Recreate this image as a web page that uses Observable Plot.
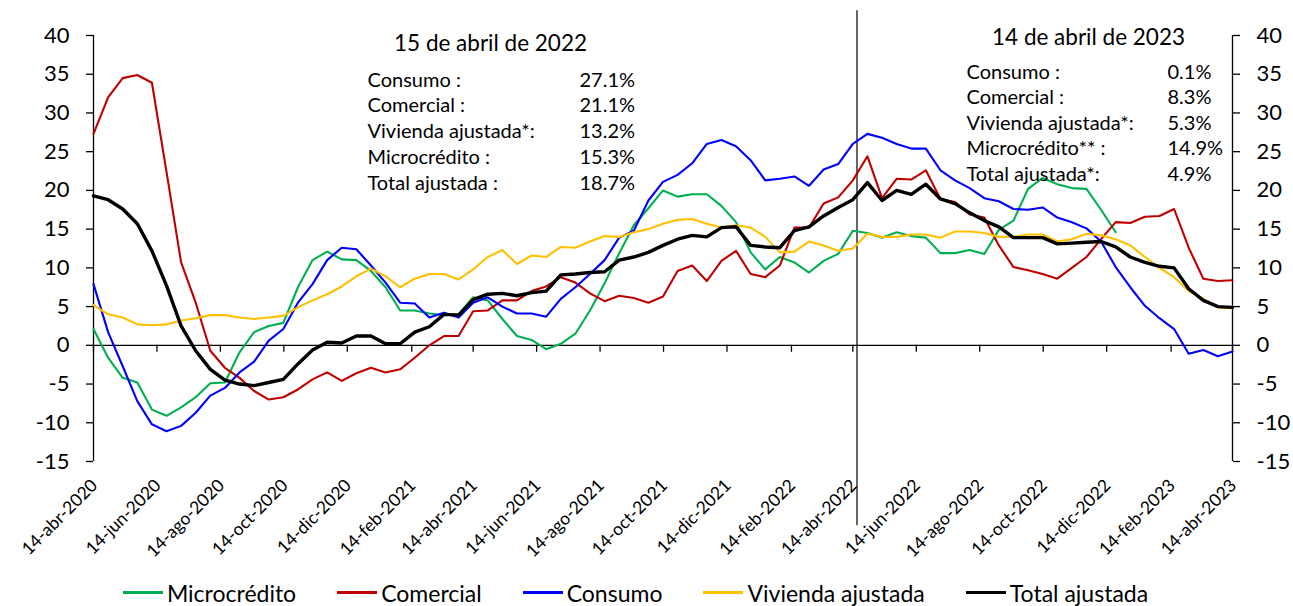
<!DOCTYPE html>
<html><head><meta charset="utf-8">
<script src="https://cdn.jsdelivr.net/npm/d3@7"></script>
<script src="https://cdn.jsdelivr.net/npm/@observablehq/plot@0.6"></script>
<style>
body{margin:0;background:#fff;font-family:Lato,sans-serif;}
#legend{display:flex;justify-content:center;align-items:center;gap:41px;height:31px;padding-top:2px;font-size:23px;color:#000;padding-right:22px;}
.item{display:flex;align-items:center;}
.sw{display:inline-block;width:40px;height:2.5px;margin-right:4px;}
</style></head><body>
<div id="chart"></div>
<div id="legend"></div>
<script>
// ---- data ----
const startDate = "2020-04-14";
const endDate = "2023-04-14";
const markerDate = "2022-04-18";

const comercial = [27.3,32.0,34.5,34.9,33.9,22.4,10.7,5.5,-0.7,-2.9,-4.2,-5.9,-7.0,-6.7,-5.7,-4.4,-3.5,-4.6,-3.6,-2.9,-3.5,-3.1,-1.6,0.0,1.2,1.2,4.4,4.5,5.8,5.8,7.0,7.6,8.8,8.1,6.7,5.7,6.4,6.1,5.5,6.3,9.6,10.3,8.3,10.9,12.2,9.2,8.8,10.3,15.2,15.2,18.3,19.1,21.3,24.4,19.0,21.5,21.4,22.6,18.9,18.5,16.9,16.5,12.9,10.1,9.7,9.2,8.6,10.0,11.4,13.7,15.9,15.8,16.6,16.7,17.6,12.6,8.6,8.3,8.4];
const consumo = [7.9,1.7,-2.7,-7.2,-10.2,-11.1,-10.4,-8.7,-6.5,-5.5,-3.5,-2.1,0.6,2.1,5.5,7.9,11.0,12.6,12.4,10.3,8.1,5.5,5.4,3.6,4.2,3.6,5.5,6.2,5.0,4.1,4.1,3.7,6.0,7.5,9.2,11.0,13.9,14.8,18.7,21.1,22.0,23.5,26.0,26.5,25.7,23.9,21.3,21.5,21.8,20.6,22.7,23.4,26.0,27.3,26.8,26.0,25.4,25.4,22.6,21.3,20.3,19.0,18.6,17.6,17.5,17.8,16.5,15.9,15.1,13.4,10.1,7.5,5.1,3.5,2.1,-1.1,-0.6,-1.4,-0.8];
const microcredito = [2.1,-1.6,-4.2,-4.8,-8.3,-9.1,-8.0,-6.7,-4.9,-4.8,-0.9,1.7,2.5,2.9,7.5,11.0,12.1,11.1,11.0,9.6,7.5,4.5,4.5,4.1,3.9,4.0,6.2,5.8,3.4,1.2,0.7,-0.5,0.2,1.5,4.5,8.0,11.9,15.5,17.7,20.0,19.2,19.5,19.5,18.0,15.9,12.0,9.8,11.4,10.7,9.4,10.9,11.8,14.8,14.5,13.9,14.6,14.1,13.9,11.9,11.9,12.3,11.8,14.9,16.1,20.2,21.6,20.8,20.3,20.2,17.5,14.6,null,null,null,null,null,null,null,null];
const vivienda = [5.2,4.0,3.6,2.7,2.6,2.7,3.2,3.5,3.9,3.9,3.6,3.4,3.6,3.8,4.9,5.8,6.6,7.6,8.9,9.9,8.9,7.5,8.6,9.2,9.2,8.5,9.8,11.4,12.3,10.5,11.6,11.4,12.7,12.6,13.4,14.1,14.0,14.6,15.0,15.7,16.2,16.3,15.7,15.2,15.5,15.2,14.0,12.0,12.1,13.4,12.9,12.2,12.5,14.4,14.0,14.0,14.3,14.3,13.9,14.7,14.7,14.5,14.0,14.0,14.3,14.3,13.4,13.7,14.4,14.2,13.7,12.9,11.4,10.0,8.8,7.0,6.0,4.9,4.8];
const total = [19.3,18.8,17.6,15.7,12.2,7.7,2.5,-0.7,-3.1,-4.5,-5.0,-5.2,-4.8,-4.4,-2.4,-0.6,0.4,0.3,1.2,1.2,0.2,0.2,1.7,2.4,4.0,3.9,5.9,6.6,6.7,6.4,6.8,7.0,9.1,9.2,9.4,9.5,11.0,11.4,12.0,12.9,13.7,14.2,14.0,15.2,15.3,12.9,12.7,12.6,14.8,15.3,16.7,17.8,18.8,21.0,18.7,20.0,19.5,20.8,18.9,18.3,17.1,16.1,15.3,13.9,13.9,13.9,13.1,13.2,13.3,13.4,12.7,11.4,10.7,10.2,10.0,7.3,5.8,5.0,4.9];

const seriesNames = ["Microcrédito","Comercial","Consumo","Vivienda ajustada","Total ajustada"];
const seriesColors = ["#00B050","#C00000","#0000FF","#FFC000","#000000"];
const seriesValues = [microcredito, comercial, consumo, vivienda, total];

const yTicks = [-15,-10,-5,0,5,10,15,20,25,30,35,40];
const tickLabels = ["14-abr-2020","14-jun-2020","14-ago-2020","14-oct-2020","14-dic-2020","14-feb-2021","14-abr-2021","14-jun-2021","14-ago-2021","14-oct-2021","14-dic-2021","14-feb-2022","14-abr-2022","14-jun-2022","14-ago-2022","14-oct-2022","14-dic-2022","14-feb-2023","14-abr-2023"];

const leftTitle = "15 de abril de 2022";
const leftLabels = ["Consumo :","Comercial :","Vivienda ajustada*:","Microcrédito :","Total ajustada :"];
const leftValues = ["27.1%","21.1%","13.2%","15.3%","18.7%"];
const rightTitle = "14 de abril de 2023";
const rightLabels = ["Consumo :","Comercial :","Vivienda ajustada*:","Microcrédito** :","Total ajustada*:"];
const rightValues = ["0.1%","8.3%","5.3%","14.9%","4.9%"];

// ---- build ----
const t0 = new Date(startDate + "T00:00:00Z"), t1 = new Date(endDate + "T00:00:00Z");
const n = total.length;
const dates = d3.range(n).map(i => new Date(+t0 + i * (t1 - t0) / (n - 1)));
const tickDates = tickLabels.map((_, k) => new Date(Date.UTC(2020, 3 + 2 * k, 14)));

const lineMarks = seriesNames.map((name, s) =>
  Plot.line(dates.map((d, i) => ({date: d, value: seriesValues[s][i]})), {
    x: "date", y: "value", stroke: seriesColors[s],
    strokeWidth: s === 4 ? 3.4 : 2.1, strokeLinejoin: "round", strokeLinecap: "round"
  })
);

const tableText = {frameAnchor: "top-left", fontSize: 20, textAnchor: "start", lineAnchor: "middle", fill: "#000"};

const chart = Plot.plot({
  width: 1293, height: 575,
  marginLeft: 93, marginRight: 61, marginTop: 35, marginBottom: 114,
  x: {type: "utc", domain: [t0, t1], axis: null},
  y: {domain: [-15, 40], axis: null, label: null},
  style: {fontFamily: "Lato, sans-serif", color: "#000", background: "#fff", overflow: "visible"},
  marks: [
    Plot.ruleY([0], {stroke: "#000", strokeWidth: 1.3}),
    Plot.ruleX(tickDates, {x: d => d, y1: 0, y2: -0.9, stroke: "#000", strokeWidth: 1.3}),
    Plot.text(tickDates, {x: d => d, text: (d, i) => tickLabels[i], frameAnchor: "bottom",
      rotate: -45, textAnchor: "end", lineAnchor: "bottom", dx: 5, dy: 25, fontSize: 17.5, fill: "#000"}),
    Plot.ruleX([t0, t1], {y1: -15, y2: 40, stroke: "#000", strokeWidth: 1.3}),
    Plot.axisY({anchor: "left", ticks: yTicks, tickSize: 7, tickPadding: 17, fontSize: 22,
      label: null, tickFormat: d => String(d), strokeWidth: 1.3}),
    Plot.axisY({anchor: "right", ticks: yTicks, tickSize: 7, tickPadding: 17, fontSize: 22,
      label: null, tickFormat: d => String(d), strokeWidth: 1.3}),
    Plot.ruleX([new Date(markerDate + "T00:00:00Z")], {y1: 43.2, y2: -23.3, stroke: "#000", strokeWidth: 1.2}),
    ...lineMarks,
    Plot.text([leftTitle], {text: d => d, frameAnchor: "top-left", dx: 397, dy: 8, fontSize: 22.5, textAnchor: "middle", lineAnchor: "middle", fill: "#000"}),
    Plot.text([leftLabels.join("\n")], {...tableText, text: d => d, dx: 274, dy: 94.5, lineHeight: 1.29}),
    Plot.text([leftValues.join("\n")], {...tableText, text: d => d, dx: 486, dy: 94.5, lineHeight: 1.29}),
    Plot.text([rightTitle], {text: d => d, frameAnchor: "top-left", dx: 995, dy: 2, fontSize: 22.5, textAnchor: "middle", lineAnchor: "middle", fill: "#000"}),
    Plot.text([rightLabels.join("\n")], {...tableText, text: d => d, dx: 873, dy: 86, lineHeight: 1.275}),
    Plot.text([rightValues.join("\n")], {...tableText, text: d => d, dx: 1074, dy: 86, lineHeight: 1.275})
  ]
});
document.getElementById("chart").appendChild(chart);

const legend = document.getElementById("legend");
seriesNames.forEach((name, s) => {
  const it = document.createElement("div");
  it.className = "item";
  const sw = document.createElement("span");
  sw.className = "sw";
  sw.style.background = seriesColors[s];
  if (s === 4) sw.style.height = "3.4px";
  const tx = document.createElement("span");
  tx.textContent = name;
  it.appendChild(sw); it.appendChild(tx);
  legend.appendChild(it);
});
</script></body></html>
